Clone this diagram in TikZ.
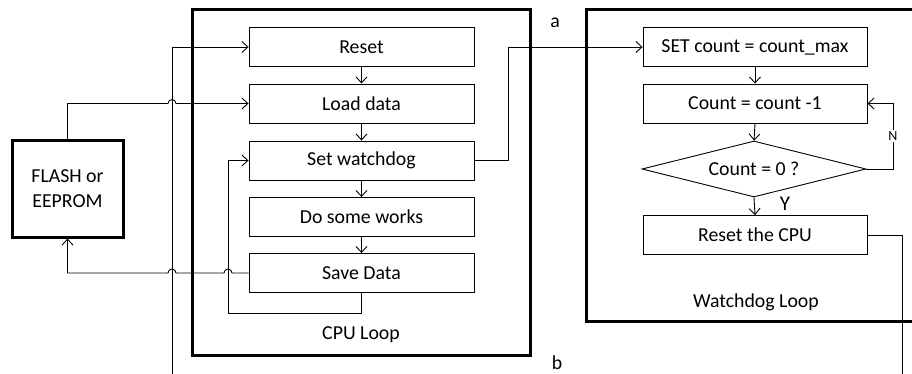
\documentclass[tikz,border=0pt]{standalone}
\usepackage{fontspec}
\setmainfont{Carlito}
\usetikzlibrary{arrows.meta,shapes.geometric}
\begin{document}
\begin{tikzpicture}[x=1pt,y=-1pt,
  line width=0.9pt,
  >={Straight Barb[length=6pt,width=11pt]},
  base/.style={font=\fontsize{19.8}{25}\selectfont},
  stepbox/.style={base,draw,line width=0.9pt,minimum width=225pt,minimum height=39pt,inner sep=0pt,anchor=center},
  frame/.style={draw,line width=3pt},
  lbl/.style={base,inner sep=0pt}
]
\useasboundingbox (0,0) rectangle (912,374);
% frames
\draw[frame] (192,10) rectangle (530,355);
\draw[frame] (586,10) rectangle (925,321);
\node[frame,base,minimum width=111pt,minimum height=96pt,inner sep=0pt,align=center] (flash) at (67.5,189) {FLASH or\\EEPROM};
% CPU loop boxes
\node[stepbox] (reset) at (361.5,47) {Reset};
\node[stepbox] (load) at (361.5,103.5) {Load data};
\node[stepbox] (setwd) at (361.5,160.5) {Set watchdog};
\node[stepbox] (work) at (361.5,217) {Do some works};
\node[stepbox] (save) at (361.5,273) {Save Data};
% Watchdog boxes
\node[stepbox,minimum width=224pt] (setc) at (755,47) {SET count = count\_max};
\node[stepbox,minimum width=224pt] (cnt) at (755,103.5) {Count = count -1};
\node[base,draw,shape=diamond,aspect=4,minimum width=224pt,minimum height=56pt,inner sep=0pt] (dia) at (754,169) {Count = 0 ?};
\node[stepbox,minimum width=224pt] (rcpu) at (755,235) {Reset the CPU};
% labels
\node[lbl] (la) at (555,23) {a};
\node[lbl] (lb) at (557,363) {b};
\node[lbl] (lcpu) at (361,335) {CPU Loop};
\node[lbl] (lwd) at (756,302) {Watchdog Loop};
\node[lbl,font=\fontsize{21}{25}\selectfont] (ly) at (785,204) {Y};
% coordinates
\coordinate (inR) at (172,374);
\coordinate (lp) at (228,313);
\coordinate (aj) at (508,47);
\coordinate (nj) at (893,103.5);
\coordinate (out) at (902,374);
% flow arrows
\draw[->] (reset.south) -- (load.north);
\draw[->] (load.south) -- (setwd.north);
\draw[->] (setwd.south) -- (work.north);
\draw[->] (work.south) -- (save.north);
\draw[->] (setc.south) -- (cnt.north);
\draw[->] (cnt.south) -- (dia.north);
\draw[->] (dia.south) -- (rcpu.north);
% connectors
\draw[->] (inR) |- (reset.west);
\draw[->] (flash.north) |- (168,103.5) arc (180:360:4) -- (load.west);
\draw[->] (save.west) -- (232,273) arc (0:-180:4) -- (176,273) arc (0:-180:4) -- (flash.south |- save.west) -- (flash.south);
\draw[->] (save.south) |- (lp) |- (setwd.west);
\draw[->] (setwd.east) -| (aj) -- (setc.west);
\draw[->] (dia.east) -| (nj) -- (cnt.east);
\node[font=\fontsize{14}{16}\selectfont,fill=white,inner sep=1.5pt] (ln) at (893,136) {N};
\draw (rcpu.east) -| (out);
\end{tikzpicture}
\end{document}
